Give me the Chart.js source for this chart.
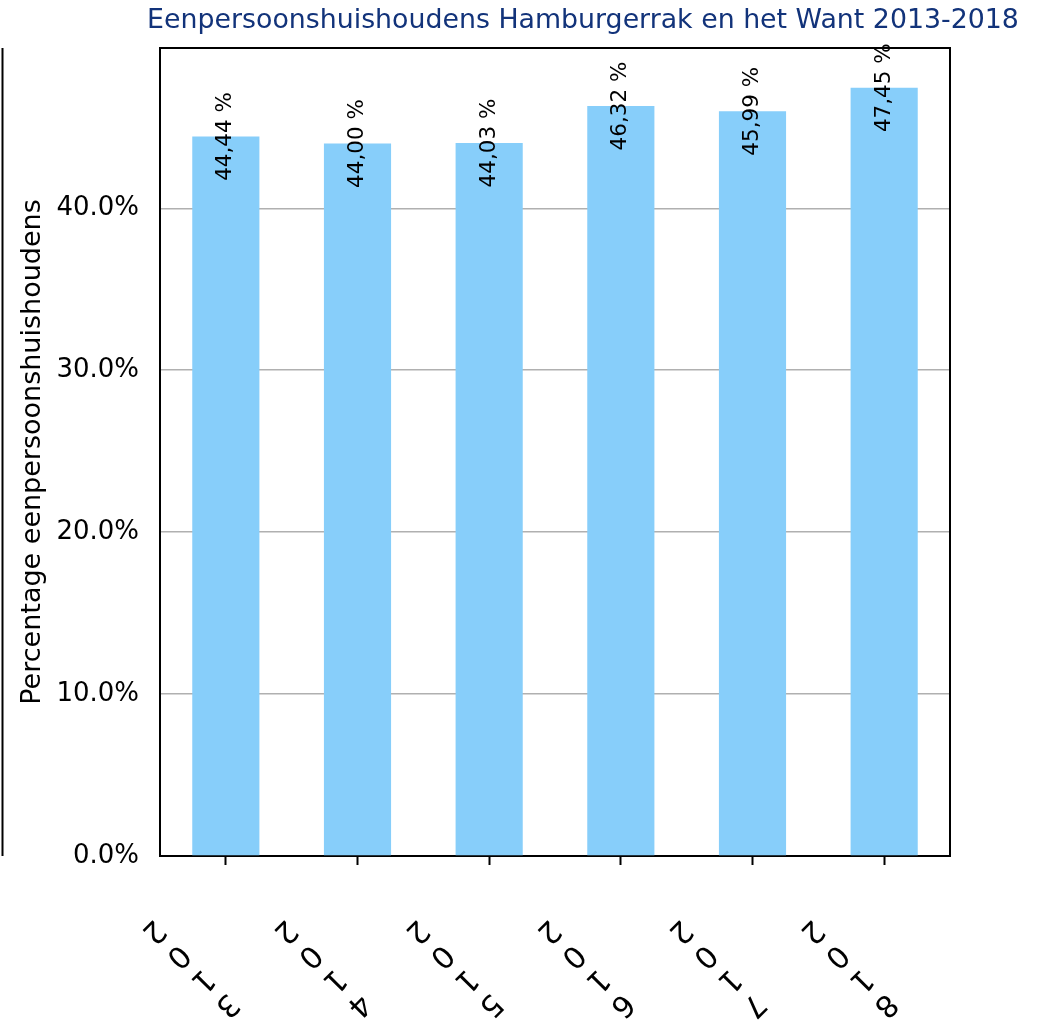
<!DOCTYPE html>
<html>
<head>
<meta charset="utf-8">
<script src="https://cdn.jsdelivr.net/npm/chart.js@4.4.0/dist/chart.umd.min.js"></script>
<style>
  html, body { margin: 0; padding: 0; background: #fff; }
  #wrap { width: 1041px; height: 1021px; }
</style>
</head>
<body>
<div id="wrap"><canvas id="chart"></canvas></div>
<script>
const years = ['2013', '2014', '2015', '2016', '2017', '2018'];
const shares = [44.44, 44.00, 44.03, 46.32, 45.99, 47.45];
const yTicks = [0, 10, 20, 30, 40];
const chartTitle = 'Eenpersoonshuishoudens Hamburgerrak en het Want 2013-2018';
const yTitle = 'Percentage eenpersoonshuishoudens';

const FONT = "'DejaVu Sans', 'Liberation Sans', sans-serif";

// frame on top/right plus the stray line on the far left
const framePlugin = {
    id: 'frame',
    afterDraw(chart) {
        const { ctx, chartArea: a } = chart;
        ctx.save();
        ctx.strokeStyle = '#000';
        ctx.lineWidth = 2;
        ctx.beginPath();
        ctx.moveTo(a.left, a.top);
        ctx.lineTo(a.right, a.top);
        ctx.lineTo(a.right, a.bottom);
        ctx.moveTo(2.5, a.top);
        ctx.lineTo(2.5, a.bottom);
        ctx.stroke();
        ctx.restore();
    }
};

// vertical value labels centred on the bar tops
const valueLabels = {
    id: 'valueLabels',
    afterDatasetsDraw(chart) {
        const { ctx } = chart;
        const meta = chart.getDatasetMeta(0);
        ctx.save();
        ctx.font = '21.5px ' + FONT;
        ctx.fillStyle = '#000';
        ctx.textAlign = 'center';
        ctx.textBaseline = 'middle';
        meta.data.forEach((bar, i) => {
            const txt = shares[i].toFixed(2).replace('.', ',') + ' %';
            ctx.save();
            ctx.translate(bar.x, bar.y);
            ctx.rotate(-Math.PI / 2);
            ctx.fillText(txt, 0, 0);
            ctx.restore();
        });
        ctx.restore();
    }
};

// year labels: glyphs stepped down to the right, each turned on its own
const yearLabels = {
    id: 'yearLabels',
    afterDraw(chart) {
        const { ctx } = chart;
        const xs = chart.scales.x;
        const base = chart.chartArea.bottom;
        ctx.save();
        ctx.font = '30px ' + FONT;
        ctx.fillStyle = '#000';
        ctx.textAlign = 'center';
        ctx.textBaseline = 'middle';
        years.forEach((yr, i) => {
            const x0 = xs.getPixelForTick(i) - 73;
            const y0 = base + 75;
            yr.split('').forEach((ch, k) => {
                ctx.save();
                ctx.translate(x0 + k * 24.5, y0 + k * 24.5);
                ctx.rotate(Math.PI * 3 / 4);
                ctx.fillText(ch, 0, 0);
                ctx.restore();
            });
        });
        ctx.restore();
    }
};

const titlePlugin = {
    id: 'topTitle',
    afterDraw(chart) {
        const { ctx } = chart;
        ctx.save();
        ctx.font = '26.8px ' + FONT;
        ctx.fillStyle = '#12337a';
        ctx.textAlign = 'center';
        ctx.textBaseline = 'alphabetic';
        ctx.fillText(chartTitle, 583, 28);
        ctx.restore();
    }
};

new Chart(document.getElementById('chart'), {
    type: 'bar',
    data: {
        labels: years,
        datasets: [{
            data: shares,
            backgroundColor: '#87cefa',
            borderWidth: 0,
            barPercentage: 0.51,
            categoryPercentage: 1
        }]
    },
    options: {
        responsive: true,
        maintainAspectRatio: false,
        animation: false,
        layout: { padding: { top: 48, right: 91, bottom: 0, left: 0 } },
        plugins: {
            legend: { display: false },
            tooltip: { enabled: false }
        },
        scales: {
            x: {
                grid: {
                    display: true,
                    offset: false,
                    drawOnChartArea: false,
                    drawTicks: true,
                    tickLength: 9,
                    tickColor: '#000',
                    tickWidth: 2
                },
                border: { color: '#000', width: 2 },
                ticks: { display: false },
                afterFit: s => { s.height = 165; }
            },
            y: {
                min: 0,
                max: 49.9,
                afterBuildTicks: s => { s.ticks = yTicks.map(v => ({ value: v })); },
                grid: { color: '#b0b0b0', lineWidth: 1.6, drawTicks: false },
                border: { color: '#000', width: 2 },
                ticks: {
                    color: '#000',
                    padding: 21,
                    font: { family: FONT, size: 26 },
                    callback: v => v.toFixed(1) + '%'
                },
                title: {
                    display: true,
                    text: yTitle,
                    color: '#000',
                    font: { family: FONT, size: 27 },
                    padding: { top: 17, bottom: 0 }
                },
                afterFit: s => { s.width = 160; }
            }
        }
    },
    plugins: [framePlugin, valueLabels, yearLabels, titlePlugin]
});
</script>
</body>
</html>
